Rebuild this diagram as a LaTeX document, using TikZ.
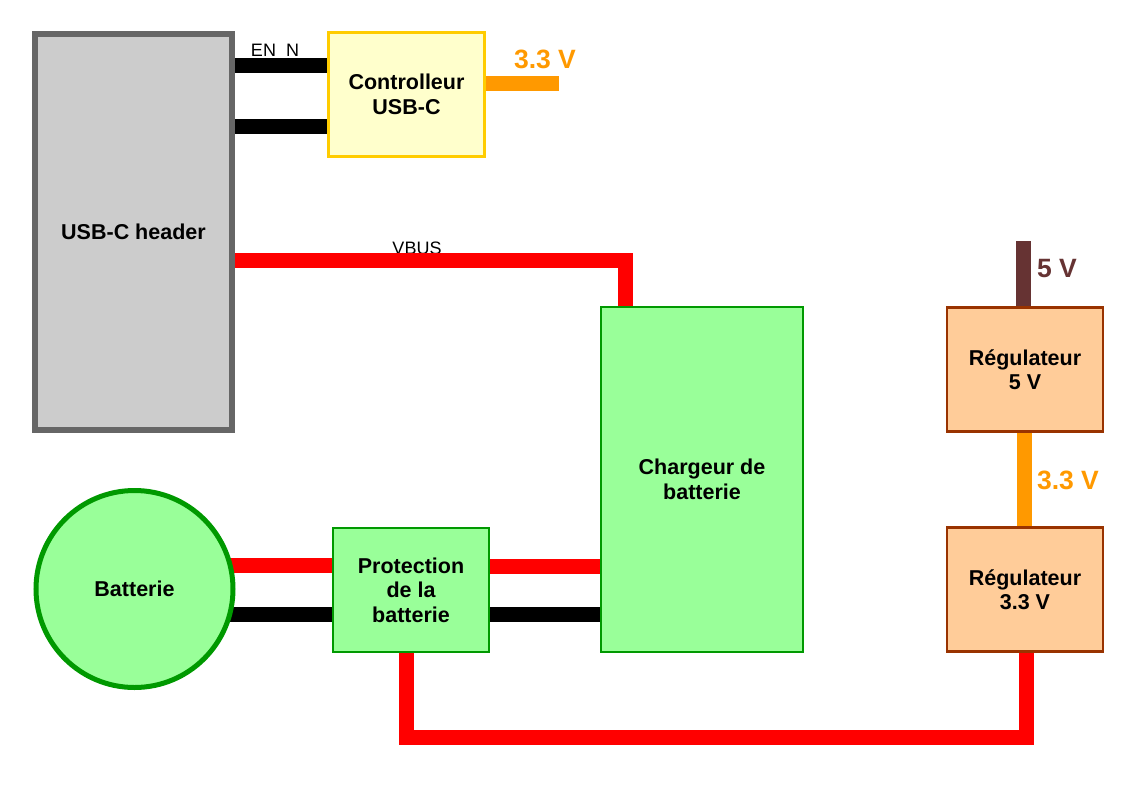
\documentclass[tikz,border=0pt]{standalone}
\usepackage{fontspec}
\setmainfont{Liberation Sans}
\usetikzlibrary{backgrounds}
\definecolor{hdrGray}{HTML}{CCCCCC}
\definecolor{hdrEdge}{HTML}{666666}
\definecolor{ctrlFill}{HTML}{FFFFCC}
\definecolor{ctrlEdge}{HTML}{FFCC00}
\definecolor{lipoGreen}{HTML}{99FF99}
\definecolor{lipoEdge}{HTML}{009900}
\definecolor{regFill}{HTML}{FFCC99}
\definecolor{regEdge}{HTML}{993300}
\definecolor{railOrange}{HTML}{FF9900}
\definecolor{railBrown}{HTML}{663333}
\begin{document}
\begin{tikzpicture}[x=1pt, y=-1pt,
  block/.style={rectangle, inner sep=0pt, align=center, line width=2.5pt,
    font=\fontsize{21.5}{24.5}\selectfont\bfseries},
  greenbox/.style={block, fill=lipoGreen, draw=lipoEdge},
  regbox/.style={block, fill=regFill, draw=regEdge, minimum width=156pt, minimum height=124pt},
  wire/.style={line width=15pt},
  railtext/.style={font=\fontsize{26.5}{30}\selectfont\bfseries, inner sep=0pt},
  sigtext/.style={font=\fontsize{18}{20}\selectfont, inner sep=0pt}]
\useasboundingbox (0,0) rectangle (1141,793);
% USB-C side
\node[block, fill=hdrGray, draw=hdrEdge, line width=6pt, minimum width=197pt, minimum height=396pt] (hdr) at (133.5,232) {USB-C header};
\node[block, fill=ctrlFill, draw=ctrlEdge, minimum width=156pt, minimum height=124pt] (ctrl) at (406.5,94.5) {Controlleur\\USB-C};
\node[railtext, text=railOrange] (ctrlV) at (545,59) {3.3 V};
% charge path
\node[greenbox, minimum width=202pt, minimum height=345pt] (chg) at (702,479.5) {Chargeur de\\batterie};
\node[greenbox, minimum width=156pt, minimum height=124pt] (prot) at (411,590) {Protection\\de la\\batterie};
\node[circle, inner sep=0pt, minimum size=197pt, fill=lipoGreen, draw=lipoEdge, line width=5pt,
  font=\fontsize{21.5}{24.5}\selectfont\bfseries] (batt) at (134.5,589) {Batterie};
% regulators
\node[regbox] (reg5) at (1025,369.5) {R\'egulateur\\5 V};
\node[regbox] (reg33) at (1025,589.7) {R\'egulateur\\3.3 V};
\node[railtext, text=railBrown] (out5) at (1057,269) {5 V};
\node[railtext, text=railOrange] (out33) at (1068,480) {3.3 V};
% wires go under the blocks
\begin{scope}[on background layer]
  \node[sigtext] (enN) at (275,52) {EN\_N};
  \node[sigtext] (vbus) at (417,248) {VBUS};
  \draw[wire, black] ([yshift=29.5pt]ctrl.west) -- ([yshift=29.5pt]ctrl.west -| hdr.east);
  \draw[wire, black] ([yshift=-31.5pt]ctrl.west) -- ([yshift=-31.5pt]ctrl.west -| hdr.east);
  \draw[wire, railOrange] ([yshift=11pt]ctrl.east) -- ++(73,0) coordinate (ctrlOut);
  \draw[wire, red] ([yshift=-28pt]hdr.east) -| ([xshift=-77pt]chg.north);
  \draw[wire, red] ([yshift=25pt]prot.west) -- ([yshift=25pt]prot.west -| batt);
  \draw[wire, black] ([yshift=-24.5pt]prot.west) -- ([yshift=-24.5pt]prot.west -| batt);
  \draw[wire, red] ([yshift=24pt]prot.east) -- ([yshift=24pt]prot.east -| chg.west);
  \draw[wire, black] ([yshift=-24.5pt]prot.east) -- ([yshift=-24.5pt]prot.east -| chg.west);
  \draw[wire, red] ([xshift=-5pt]prot.south) -- ++(0,84) -| ([xshift=1.5pt]reg33.south);
  \draw[wire, railBrown] ([xshift=-1.5pt]reg5.north) -- ++(0,-65) coordinate (in5);
  \draw[wire, railOrange] ([xshift=-0.5pt]reg5.south) -- ([xshift=-0.5pt]reg33.north);
\end{scope}
\end{tikzpicture}
\end{document}
